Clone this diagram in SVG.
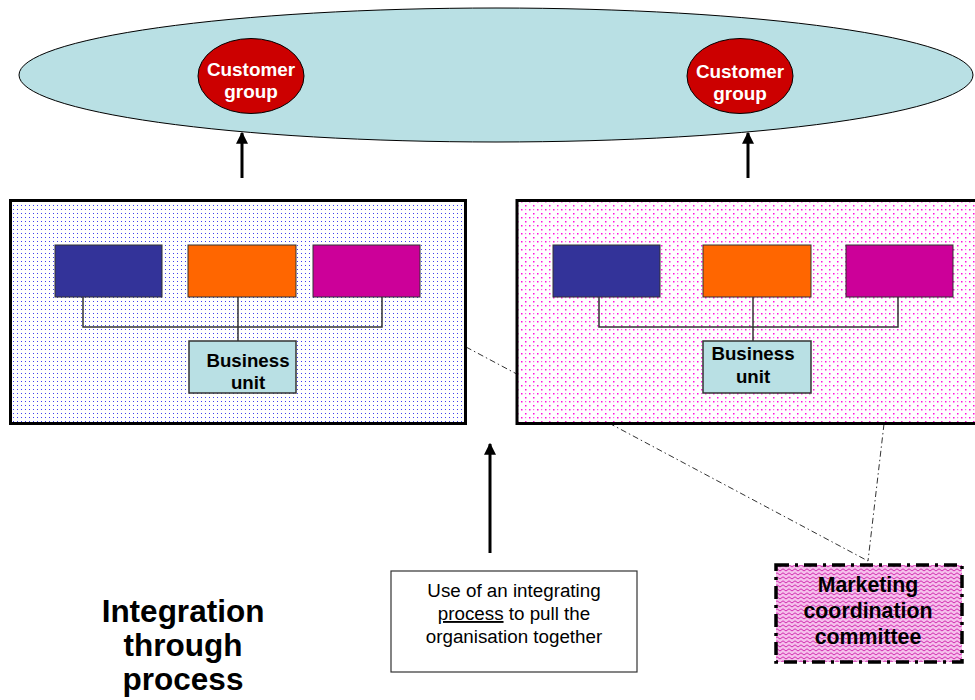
<svg xmlns="http://www.w3.org/2000/svg" width="975" height="700" viewBox="0 0 975 700">
<style>
  .lbl { font-family: "Liberation Sans", Arial, sans-serif; font-weight: bold; text-anchor: middle; }
  .wh { fill: #ffffff; font-size: 18.9px; }
  .bk { fill: #000000; }
  .unit { fill: #333399; stroke: #333; stroke-width: 1; }
  .tree { fill: none; stroke: #333; stroke-width: 1.5; }
  .bu { fill: #b9e0e4; stroke: #333; stroke-width: 1.5; }
  .dd { fill: none; stroke: #333; stroke-width: 1; stroke-dasharray: 6 3 1.5 3; }
  .arr { stroke: #000; stroke-width: 3; marker-end: url(#ah); }
</style>
<defs>
  <marker id="ah" viewBox="0 0 10 10" refX="9" refY="5" markerWidth="4" markerHeight="4.5" orient="auto" markerUnits="strokeWidth">
    <path d="M0,0 L10,5 L0,10 z" fill="#000"/>
  </marker>
  <pattern id="pblue" width="4" height="4" patternUnits="userSpaceOnUse">
    <rect width="4" height="4" fill="#ffffff"/>
    <rect x="1" y="1" width="1" height="1" fill="#4040ee"/>
  </pattern>
  <pattern id="ppink" width="8" height="8" patternUnits="userSpaceOnUse">
    <rect width="8" height="8" fill="#ffffff"/>
    <rect x="1" y="1" width="1.5" height="1.5" fill="#ff10dd"/>
    <rect x="5" y="5" width="1.5" height="1.5" fill="#ff10dd"/>
    <rect x="5" y="1" width="1.2" height="1.2" fill="#ff60e6"/>
  </pattern>
  <pattern id="pzig" width="6" height="4" patternUnits="userSpaceOnUse">
    <rect width="6" height="4" fill="#f5c0ec"/>
    <polyline points="0,3 3,0.8 6,3" fill="none" stroke="#d12aae" stroke-width="1"/>
  </pattern>
</defs>

<g id="market">
  <ellipse cx="496" cy="75" rx="477" ry="67" fill="#b9e0e4" stroke="#000" stroke-width="1"/>
</g>
<g id="customer-group-1">
  <ellipse cx="251" cy="76" rx="53" ry="37.5" fill="#cc0000" stroke="#000" stroke-width="1"/>
  <text class="lbl wh" x="251" y="76">Customer</text>
  <text class="lbl wh" x="251" y="98">group</text>
</g>
<g id="customer-group-2">
  <ellipse cx="740" cy="76" rx="53" ry="37.5" fill="#cc0000" stroke="#000" stroke-width="1"/>
  <text class="lbl wh" x="740" y="78">Customer</text>
  <text class="lbl wh" x="740" y="100">group</text>
</g>

<g id="connectors">
  <line class="dd" x1="466" y1="347" x2="868" y2="561"/>
  <line class="dd" x1="884" y1="424" x2="868" y2="561"/>
  <line class="arr" x1="242" y1="178" x2="242" y2="133"/>
  <line class="arr" x1="748" y1="178" x2="748" y2="133"/>
  <line class="arr" x1="490" y1="553" x2="490" y2="444"/>
</g>

<g id="division-left">
  <rect x="10.5" y="200.5" width="455" height="223" fill="url(#pblue)" stroke="#000" stroke-width="3"/>
  <rect class="unit" x="55" y="245" width="107" height="52"/>
  <rect class="unit" x="188" y="245" width="108" height="52" style="fill:#ff6600"/>
  <rect class="unit" x="313" y="245" width="107" height="52" style="fill:#cc0099"/>
  <polyline class="tree" points="83,297 83,327 382,327 382,297"/>
  <line class="tree" x1="238" y1="297" x2="238" y2="341"/>
  <rect class="bu" x="189" y="341" width="107" height="52"/>
  <text class="lbl bk" x="248" y="367" font-size="18.7">Business</text>
  <text class="lbl bk" x="248" y="389" font-size="18.7">unit</text>
</g>

<g id="division-right">
  <rect x="517" y="200.5" width="470" height="223" fill="url(#ppink)" stroke="#000" stroke-width="3"/>
  <rect class="unit" x="553" y="245" width="107" height="52"/>
  <rect class="unit" x="703" y="245" width="108" height="52" style="fill:#ff6600"/>
  <rect class="unit" x="846" y="245" width="107" height="52" style="fill:#cc0099"/>
  <polyline class="tree" points="599,297 599,327 898,327 898,297"/>
  <line class="tree" x1="753" y1="297" x2="753" y2="341"/>
  <rect class="bu" x="703" y="341" width="108" height="52"/>
  <text class="lbl bk" x="753" y="360" font-size="18.7">Business</text>
  <text class="lbl bk" x="753" y="383" font-size="18.7">unit</text>
</g>

<g id="process-note">
  <rect x="391" y="571" width="246" height="101" fill="#ffffff" stroke="#333" stroke-width="1.2"/>
  <g font-family="Liberation Sans, Arial, sans-serif" font-size="18.8" text-anchor="middle" fill="#000">
    <text x="514" y="597">Use of an integrating</text>
    <text x="514" y="620"><tspan text-decoration="underline">process</tspan> to pull the</text>
    <text x="514" y="643">organisation together</text>
  </g>
</g>

<g id="committee">
  <rect x="776" y="565" width="186" height="97" fill="url(#pzig)" stroke="#000" stroke-width="3.5" stroke-dasharray="13 6 3 6"/>
  <text class="lbl bk" x="868" y="592" font-size="21.3">Marketing</text>
  <text class="lbl bk" x="868" y="618" font-size="21.3">coordination</text>
  <text class="lbl bk" x="868" y="644" font-size="21.3">committee</text>
</g>

<g id="title">
  <text class="lbl bk" x="183" y="622" font-size="31.5">Integration</text>
  <text class="lbl bk" x="183" y="656" font-size="31.5">through</text>
  <text class="lbl bk" x="183" y="690" font-size="31.5">process</text>
</g>
</svg>
